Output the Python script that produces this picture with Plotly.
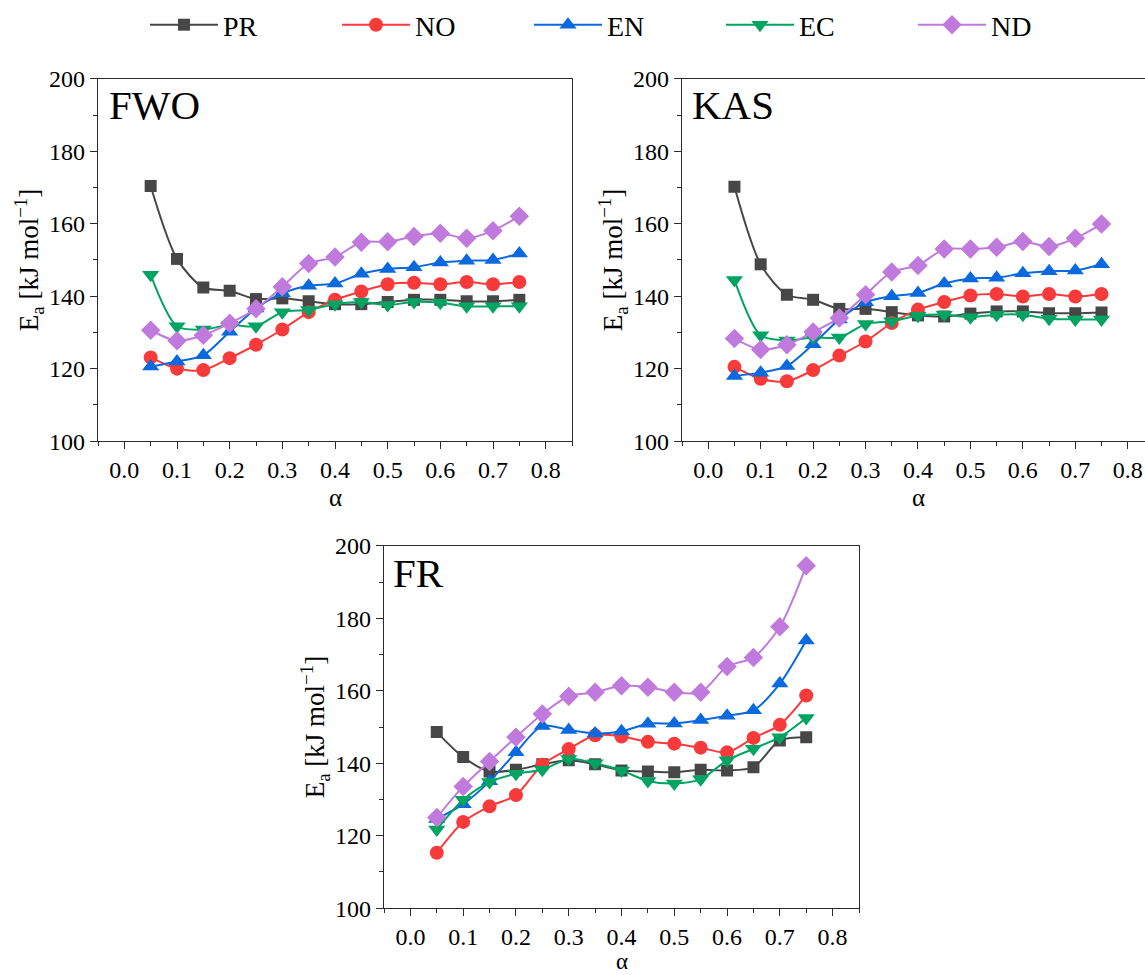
import plotly.graph_objects as go

alpha = [0.05, 0.10, 0.15, 0.20, 0.25, 0.30, 0.35, 0.40, 0.45, 0.50, 0.55, 0.60, 0.65, 0.70, 0.75]
series_names = ["PR", "NO", "EN", "EC", "ND"]

# FWO
fwo_PR = [170.4, 150.3, 142.4, 141.5, 139.2, 139.4, 138.6, 137.8, 137.8, 138.4, 139.0, 139.0, 138.6, 138.6, 139.0]
fwo_NO = [123.1, 120.0, 119.6, 122.9, 126.6, 130.8, 135.6, 139.0, 141.3, 143.3, 143.7, 143.3, 143.9, 143.3, 143.9]
fwo_EN = [120.6, 122.0, 123.7, 130.2, 136.6, 140.8, 142.9, 143.5, 146.2, 147.5, 148.0, 149.3, 149.8, 150.0, 151.8]
fwo_EC = [145.9, 131.7, 130.8, 132.1, 131.7, 135.6, 136.2, 137.8, 138.4, 137.6, 138.4, 138.2, 137.2, 137.2, 137.2]
fwo_ND = [130.6, 127.7, 129.2, 132.5, 136.5, 142.6, 149.0, 150.8, 154.9, 155.0, 156.5, 157.4, 156.0, 158.1, 162.1]

# KAS
kas_PR = [170.2, 148.8, 140.4, 139.0, 136.5, 136.5, 135.6, 134.7, 134.4, 135.2, 135.8, 135.8, 135.3, 135.3, 135.5]
kas_NO = [120.5, 117.2, 116.5, 119.6, 123.6, 127.5, 132.6, 136.3, 138.4, 140.2, 140.6, 139.9, 140.6, 139.9, 140.6]
kas_EN = [118.0, 118.9, 120.7, 126.7, 133.6, 138.3, 140.0, 140.9, 143.5, 144.9, 145.1, 146.3, 146.9, 147.1, 148.8]
kas_EC = [144.5, 129.2, 127.8, 128.6, 128.6, 132.3, 133.1, 134.6, 134.9, 134.2, 134.9, 134.9, 133.8, 133.6, 133.6]
kas_ND = [128.3, 125.3, 126.6, 130.1, 134.0, 140.4, 146.7, 148.5, 153.0, 153.0, 153.5, 155.1, 153.7, 156.0, 159.9]

# FR
fr_PR = [148.6, 141.7, 137.7, 138.2, 139.7, 140.8, 139.7, 138.0, 137.7, 137.5, 138.2, 138.0, 138.9, 146.3, 147.2]
fr_NO = [115.3, 123.8, 128.1, 131.2, 139.6, 143.9, 147.7, 147.4, 145.9, 145.4, 144.3, 143.0, 147.0, 150.6, 158.7]
fr_EN = [124.6, 128.7, 135.0, 143.0, 150.3, 149.2, 148.2, 148.8, 150.9, 151.0, 151.9, 153.1, 154.6, 162.0, 173.9]
fr_EC = [121.7, 129.9, 134.8, 137.1, 138.2, 141.2, 140.0, 138.0, 135.1, 134.4, 135.6, 140.8, 144.0, 147.2, 152.5]
fr_ND = [125.0, 133.6, 140.5, 147.2, 153.6, 158.5, 159.6, 161.4, 161.0, 159.6, 159.6, 166.7, 169.2, 177.7, 194.5]

x_ticks = [0.0, 0.1, 0.2, 0.3, 0.4, 0.5, 0.6, 0.7, 0.8]
y_ticks = [100, 120, 140, 160, 180, 200]

colors = {"PR": "#474747", "NO": "#f93a3a", "EN": "#0a69de", "EC": "#00a462", "ND": "#c07ade"}
symbols = {"PR": "square", "NO": "circle", "EN": "triangle-up", "EC": "triangle-down", "ND": "diamond"}
msizes = {"PR": 12, "NO": 14, "EN": 15, "EC": 15, "ND": 15}

panels = [
    ("FWO", "x", "y", [fwo_PR, fwo_NO, fwo_EN, fwo_EC, fwo_ND]),
    ("KAS", "x2", "y2", [kas_PR, kas_NO, kas_EN, kas_EC, kas_ND]),
    ("FR", "x3", "y3", [fr_PR, fr_NO, fr_EN, fr_EC, fr_ND]),
]

FONT = "Liberation Serif"
W, H = 1145, 975

fig = go.Figure()
for pi, (label, xa, ya, data) in enumerate(panels):
    for name, vals in zip(series_names, data):
        fig.add_trace(go.Scatter(
            x=alpha, y=vals, name=name, xaxis=xa, yaxis=ya,
            mode="lines+markers",
            line=dict(color=colors[name], width=2, shape="spline", smoothing=0.8),
            marker=dict(symbol=symbols[name], size=msizes[name], color=colors[name], line=dict(width=0)),
            showlegend=(pi == 0), legendgroup=name,
        ))

axcol = "#2b2b2b"

def xaxis(domain_px, rng):
    return dict(
        domain=[domain_px[0] / W, domain_px[1] / W], range=rng, automargin=False,
        showline=True, linecolor=axcol, linewidth=1.3, mirror=True,
        ticks="outside", ticklen=7, tickwidth=1.3, tickcolor=axcol,
        tickvals=x_ticks, ticktext=[f"{v:.1f}" for v in x_ticks],
        minor=dict(dtick=0.05, tick0=0, ticks="outside", ticklen=4, tickwidth=1.3, tickcolor=axcol),
        showgrid=False, zeroline=False,
        tickfont=dict(family=FONT, size=24, color="black"),
    )

def yaxis(domain_px, anchor, mirror=True):
    return dict(
        domain=[1 - domain_px[1] / H, 1 - domain_px[0] / H], range=[100, 200], anchor=anchor, automargin=False,
        showline=True, linecolor=axcol, linewidth=1.3, mirror=mirror,
        ticks="outside", ticklen=7, tickwidth=1.3, tickcolor=axcol,
        tickvals=y_ticks,
        minor=dict(dtick=10, tick0=100, ticks="outside", ticklen=4, tickwidth=1.3, tickcolor=axcol),
        showgrid=False, zeroline=False,
        tickfont=dict(family=FONT, size=24, color="black"),
        title=dict(text="E<sub>a</sub> [kJ mol<sup>−1</sup>]", font=dict(family=FONT, size=27, color="black"), standoff=2),
    )

kas_left = 682
kas_right_val = 0.85 - (1154 - W) / 526.5

annotations = [
    dict(text="FWO", xref="x domain", yref="y domain", x=0.02, y=0.928, xanchor="left", yanchor="middle",
         showarrow=False, font=dict(family=FONT, size=41, color="black")),
    dict(text="KAS", xref="x2 domain", yref="y2 domain", x=0.017, y=0.928, xanchor="left", yanchor="middle",
         showarrow=False, font=dict(family=FONT, size=41, color="black")),
    dict(text="FR", xref="x3 domain", yref="y3 domain", x=0.014, y=0.924, xanchor="left", yanchor="middle",
         showarrow=False, font=dict(family=FONT, size=41, color="black")),
    # x-axis titles (alpha)
    dict(text="α", xref="paper", yref="paper", x=335 / W, y=1 - 497 / H, xanchor="center", yanchor="middle",
         showarrow=False, borderpad=0, font=dict(family=FONT, size=25, color="black")),
    dict(text="α", xref="paper", yref="paper", x=918 / W, y=1 - 497 / H, xanchor="center", yanchor="middle",
         showarrow=False, borderpad=0, font=dict(family=FONT, size=25, color="black")),
    dict(text="α", xref="paper", yref="paper", x=621.5 / W, y=0, xanchor="center", yanchor="bottom",
         showarrow=False, borderpad=0, font=dict(family=FONT, size=23, color="black")),
]

fig.update_layout(
    width=W, height=H,
    margin=dict(l=0, r=0, t=0, b=0),
    paper_bgcolor="white", plot_bgcolor="white",
    font=dict(family=FONT, color="black"),
    xaxis=dict(xaxis((98, 572), [-0.05, 0.85]), anchor="y"),
    yaxis=yaxis((77, 440), "x"),
    xaxis2=dict(xaxis((kas_left, W), [-0.05, kas_right_val]), anchor="y2"),
    yaxis2=yaxis((77, 440), "x2", mirror=False),
    xaxis3=dict(xaxis((384, 859), [-0.05, 0.85]), anchor="y3"),
    yaxis3=yaxis((545, 908), "x3"),
    legend=dict(
        orientation="h", x=145 / W, xanchor="left", y=1 - 23 / H, yanchor="middle",
        font=dict(family=FONT, size=28, color="black"),
        entrywidth=109, entrywidthmode="pixels", itemwidth=68,
        bgcolor="rgba(0,0,0,0)", tracegroupgap=0,
    ),
    showlegend=True,
    annotations=annotations,
)

fig.write_html("out.html")
